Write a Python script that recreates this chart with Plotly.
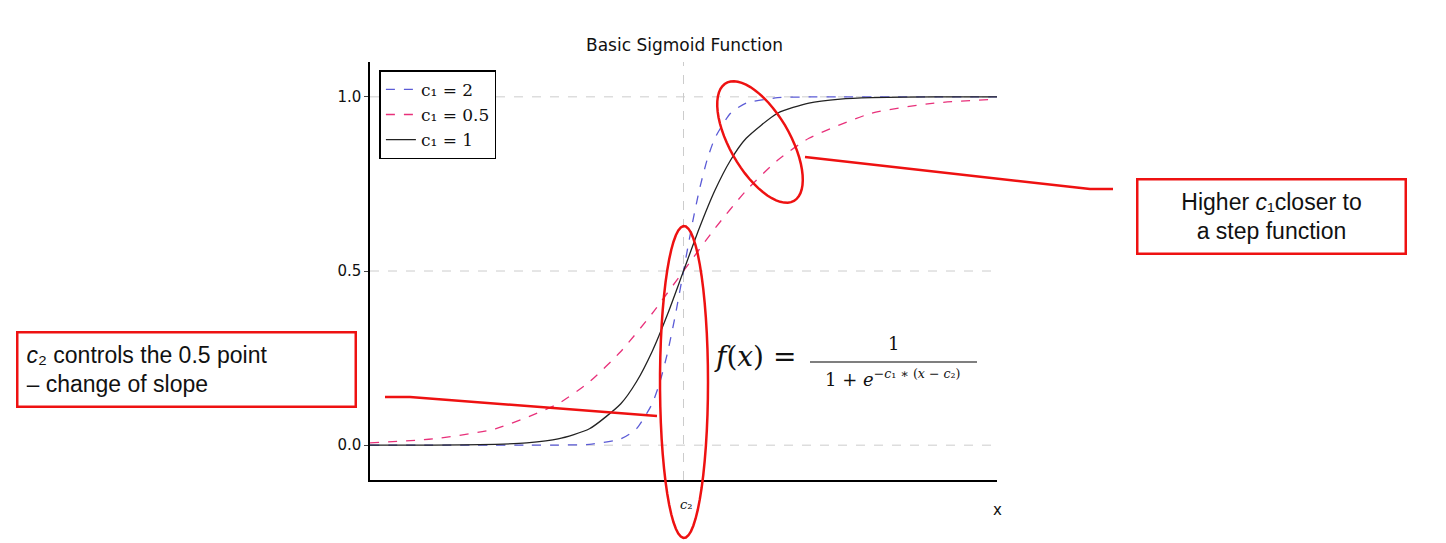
import numpy as np
import plotly.graph_objects as go

# data
x_c1_1 = [-10, -8, -6, -5, -4, -3, -2, -1.5, -1, -0.5, 0, 0.5, 1, 1.5, 2, 3, 4, 5, 6, 8, 10]
y_c1_1 = [0.00005, 0.0003, 0.0025, 0.0067, 0.018, 0.047, 0.119, 0.182, 0.269, 0.378, 0.5,
          0.622, 0.731, 0.818, 0.881, 0.953, 0.982, 0.9933, 0.9975, 0.9997, 0.99995]
x_c1_2 = [-10, -5, -4, -3, -2, -1.5, -1, -0.75, -0.5, -0.25, 0, 0.25, 0.5, 0.75, 1, 1.5, 2, 3, 4, 5, 10]
y_c1_2 = [0.0, 0.00005, 0.0003, 0.0025, 0.018, 0.047, 0.119, 0.182, 0.269, 0.378, 0.5,
          0.622, 0.731, 0.818, 0.881, 0.953, 0.982, 0.9975, 0.9997, 0.99995, 1.0]
x_c1_05 = [-10, -8, -6, -4, -3, -2, -1, 0, 1, 2, 3, 4, 6, 8, 10]
y_c1_05 = [0.0067, 0.018, 0.047, 0.119, 0.182, 0.269, 0.378, 0.5, 0.622, 0.731, 0.818, 0.881, 0.953, 0.982, 0.9933]
y_ticks = [0.0, 0.5, 1.0]
y_tick_labels = ["0.0", "0.5", "1.0"]

OFF = 8  # page body margin
W, H = 1446 - 2 * OFF, 543 - OFF
L, R, T, B = 370 - OFF, 997 - OFF, 62 - OFF, 480 - OFF
def px(x): return (x - OFF - L) / (R - L)
def py(y): return (B - (y - OFF)) / (B - T)

fig = go.Figure()
fig.add_trace(go.Scatter(x=x_c1_2, y=y_c1_2, mode="lines", name="c₁ = 2",
                         line=dict(color="#5b5bd6", dash="dash", width=1.3, shape="spline", smoothing=0.6)))
fig.add_trace(go.Scatter(x=x_c1_05, y=y_c1_05, mode="lines", name="c₁ = 0.5",
                         line=dict(color="#e8307a", dash="dash", width=1.3, shape="spline", smoothing=0.6)))
fig.add_trace(go.Scatter(x=x_c1_1, y=y_c1_1, mode="lines", name="c₁ = 1",
                         line=dict(color="#222222", width=1.3, shape="spline", smoothing=0.6)))

shapes = []
for yv in y_ticks:
    shapes.append(dict(type="line", xref="paper", yref="y", x0=0, x1=1, y0=yv, y1=yv,
                       line=dict(color="#cccccc", dash="dash", width=1), layer="below"))
shapes.append(dict(type="line", xref="x", yref="paper", x0=0, x1=0, y0=0, y1=1,
                   line=dict(color="#cccccc", dash="dash", width=1), layer="below"))

def ellipse(cx, cy, a, b, ang):
    t = np.linspace(0, 2 * np.pi, 60)
    ca, sa = np.cos(np.radians(ang)), np.sin(np.radians(ang))
    xs = cx + a * np.cos(t) * ca - b * np.sin(t) * sa
    ys = cy + a * np.cos(t) * sa + b * np.sin(t) * ca
    return "M " + " L ".join(f"{px(u):.5f},{py(v):.5f}" for u, v in zip(xs, ys)) + " Z"

red = dict(color="#ee1111", width=2.5)
shapes.append(dict(type="path", xref="paper", yref="paper", path=ellipse(760, 142, 68, 30, 60), line=red))
shapes.append(dict(type="path", xref="paper", yref="paper", path=ellipse(684, 382, 24, 156, 0), line=red))
def pl(pts):
    return "M " + " L ".join(f"{px(u):.5f},{py(v):.5f}" for u, v in pts)
shapes.append(dict(type="path", xref="paper", yref="paper", path=pl([(385, 397), (410, 397), (657, 416)]), line=red))
shapes.append(dict(type="path", xref="paper", yref="paper", path=pl([(805, 157), (1090, 189), (1113, 189)]), line=red))
shapes.append(dict(type="line", xref="paper", yref="paper", x0=px(810), x1=px(977), y0=py(362), y1=py(362),
                   line=dict(color="black", width=1.2)))

ann = [
    dict(x=px(684), y=py(45), text="Basic Sigmoid Function", font=dict(size=17, color="#111")),
    dict(x=px(755), y=py(356), text="<i>f</i>(<i>x</i>) =", font=dict(size=28, family="DejaVu Serif", color="#111")),
    dict(x=px(893), y=py(343), text="1", font=dict(size=18, family="DejaVu Serif", color="#111")),
    dict(x=px(893), y=py(378), text="1 + <i>e</i><sup>−<i>c</i>₁ ∗ (<i>x</i> − <i>c</i>₂)</sup>",
         font=dict(size=18, family="DejaVu Serif", color="#111")),
    dict(x=px(686), y=py(505), text="<i>c</i>₂", font=dict(size=13, family="DejaVu Serif", color="#111")),
    dict(x=px(997), y=py(510), text="x", font=dict(size=15, color="#111")),
    dict(x=px(1271), y=py(216), text="Higher <i>c</i>₁closer to<br>a step function",
         font=dict(size=23, family="Liberation Sans", color="#111"),
         bordercolor="#ee1111", borderwidth=2.5, borderpad=8, bgcolor="white", align="center", width=250),
    dict(x=px(187), y=py(369), text="<i>c</i>₂ controls the 0.5 point<br>– change of slope",
         font=dict(size=23, family="Liberation Sans", color="#111"),
         bordercolor="#ee1111", borderwidth=2.5, borderpad=8, bgcolor="white", align="left", width=320),
]
for a in ann:
    a.update(xref="paper", yref="paper", showarrow=False, xanchor="center", yanchor="middle")

fig.update_layout(
    width=W, height=H, margin=dict(l=L, r=W - R, t=T, b=H - B),
    plot_bgcolor="white", paper_bgcolor="white",
    shapes=shapes, annotations=ann,
    font=dict(family="DejaVu Sans", size=15, color="#111"),
    showlegend=True,
    legend=dict(x=0.015, y=0.98, xanchor="left", yanchor="top", bordercolor="black", borderwidth=1.5,
                bgcolor="white", font=dict(size=17, family="DejaVu Serif")),
    xaxis=dict(range=[-10, 10], showgrid=False, zeroline=False, showticklabels=False, ticks="",
               showline=True, linecolor="black", linewidth=1.5),
    yaxis=dict(range=[-0.1, 1.1], tickvals=y_ticks, ticktext=y_tick_labels, showgrid=False, zeroline=False,
               ticks="outside", ticklen=4, showline=True, linecolor="black", linewidth=1.5),
)
fig.write_html("out.html")
